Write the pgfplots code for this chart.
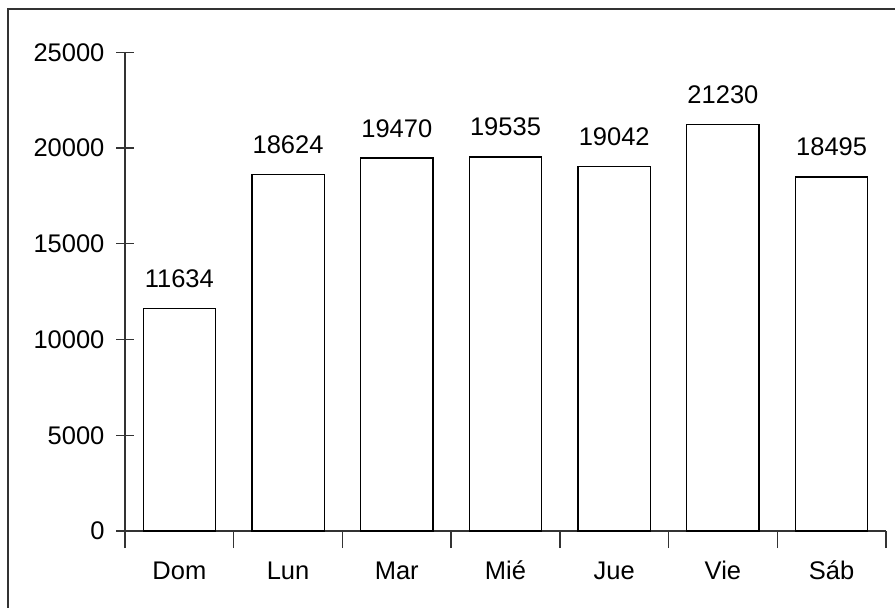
\documentclass[border=0pt]{standalone}
\usepackage{pgfplots}
\pgfplotsset{compat=1.18}
\usepackage{fontspec}
\setmainfont{Liberation Sans}
\begin{document}
\begin{tikzpicture}
  % 1 px of the reference = 0.5pt
  \useasboundingbox (0pt,0pt) rectangle (447.5pt,-303.5pt);
  \draw[black!80, line width=0.75pt] (4pt,-4.5pt) rectangle (470pt,-330pt);
  \begin{axis}[
    at={(62.5pt,-265.5pt)}, anchor=origin,
    scale only axis,
    width=380.5pt, height=239.35pt,
    font=\fontsize{12.75}{15}\selectfont,
    axis x line=bottom, axis y line=left,
    axis line style={black!80, line width=0.7pt, -},
    xmin=0, xmax=7, ymin=0, ymax=25000,
    ytick={0,5000,...,25000},
    scaled y ticks=false,
    xtick={0.5,1.5,...,6.5},
    xticklabels={Dom, Lun, Mar, Mié, Jue, Vie, Sáb},
    minor xtick={0,1,...,7},
    tick align=center,
    major tick length=8.5pt,
    minor tick length=8.5pt,
    tick style={black!80, line width=0.7pt},
    major x tick style={draw=none},
    /pgf/number format/.cd, 1000 sep={}, assume math mode=true, /pgfplots/.cd,
    xticklabel style={anchor=base, yshift=-15.5pt},
    yticklabel style={anchor=east, xshift=-2.5pt},
    ybar, bar width=0.665,
    nodes near coords,
    nodes near coords style={anchor=base, yshift=10.5pt},
    clip=false,
  ]
    \addplot[draw=black, line width=0.7pt, fill=white] coordinates {
      (0.5,11634) (1.5,18624) (2.5,19470) (3.5,19535) (4.5,19042) (5.5,21230) (6.5,18495)};
  \end{axis}
\end{tikzpicture}
\end{document}
